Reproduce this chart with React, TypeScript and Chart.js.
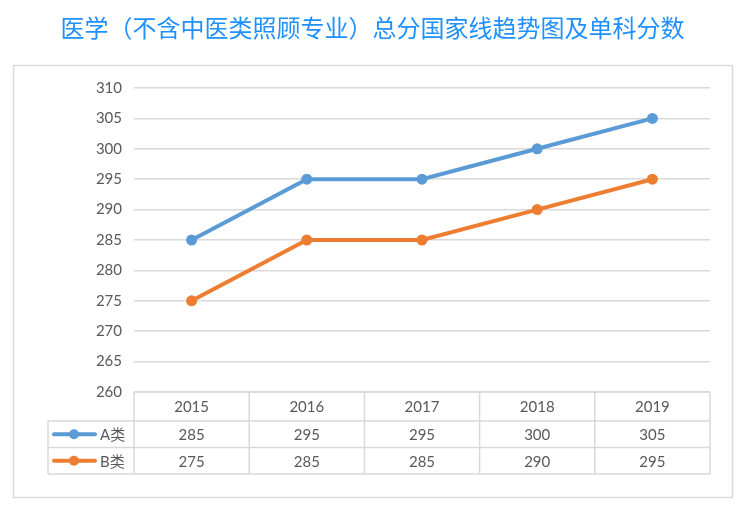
import React, { useEffect, useRef } from "react";
import { Chart, registerables } from "chart.js";

Chart.register(...registerables);

const titleText = "医学（不含中医类照顾专业）总分国家线趋势图及单科分数";
const years = ["2015", "2016", "2017", "2018", "2019"];
const seriesNames = ["A类", "B类"];
const seriesA = [285, 295, 295, 300, 305];
const seriesB = [275, 285, 285, 290, 295];
const yMin = 260;
const yMax = 310;
const yStep = 5;

const BLUE = "#5B9BD5";
const ORANGE = "#ED7D31";
const GRID = "#D9D9D9";
const TEXT = "#595959";
const FONT = "Lato, 'Noto Sans CJK SC', sans-serif";

const framePlugin = {
  id: "frame",
  beforeDraw(chart: any) {
    const { ctx } = chart;
    ctx.save();
    ctx.strokeStyle = GRID;
    ctx.lineWidth = 1.5;
    ctx.strokeRect(13.5, 65.5, 719, 432);
    ctx.restore();
  },
};

const tablePlugin = {
  id: "dataTable",
  afterDraw(chart: any) {
    const { ctx, chartArea, scales } = chart;
    const xs = scales.x;
    const n = years.length;
    const step = xs.getPixelForValue(1) - xs.getPixelForValue(0);
    const left = xs.getPixelForValue(0) - step / 2;
    const right = xs.getPixelForValue(n - 1) + step / 2;
    const top = chartArea.bottom;
    const headerH = 29;
    const rowH = 26.5;
    const legendLeft = 48;
    const r1 = top + headerH;
    const r2 = r1 + rowH;
    const bottom = r2 + rowH;

    ctx.save();
    ctx.strokeStyle = GRID;
    ctx.lineWidth = 1.5;
    const line = (x1: number, y1: number, x2: number, y2: number) => {
      ctx.beginPath();
      ctx.moveTo(x1, y1);
      ctx.lineTo(x2, y2);
      ctx.stroke();
    };
    line(left, top, right, top);
    line(legendLeft, r1, right, r1);
    line(legendLeft, r2, right, r2);
    line(legendLeft, bottom, right, bottom);
    for (let i = 0; i <= n; i++) {
      const x = left + i * step;
      line(x, top, x, bottom);
    }
    line(legendLeft, r1, legendLeft, bottom);

    ctx.fillStyle = TEXT;
    ctx.font = `15px ${FONT}`;
    ctx.textAlign = "center";
    ctx.textBaseline = "middle";
    years.forEach((y, i) => {
      ctx.fillText(y, xs.getPixelForValue(i), top + headerH / 2 + 1);
    });
    const rows = [seriesA, seriesB];
    const colors = [BLUE, ORANGE];
    rows.forEach((vals, ri) => {
      const cy = r1 + ri * rowH + rowH / 2 + 1;
      vals.forEach((v, i) => {
        ctx.fillStyle = TEXT;
        ctx.fillText(String(v), xs.getPixelForValue(i), cy);
      });
      ctx.strokeStyle = colors[ri];
      ctx.lineWidth = 4;
      ctx.lineCap = "round";
      line(54, cy - 1, 95, cy - 1);
      ctx.fillStyle = colors[ri];
      ctx.beginPath();
      ctx.arc(74, cy - 1, 5, 0, Math.PI * 2);
      ctx.fill();
      ctx.fillStyle = TEXT;
      ctx.textAlign = "left";
      ctx.fillText(seriesNames[ri], 100, cy);
      ctx.textAlign = "center";
    });
    ctx.restore();
  },
};

export default function App() {
  const ref = useRef<HTMLCanvasElement | null>(null);

  useEffect(() => {
    if (!ref.current) return;
    const chart = new Chart(ref.current, {
      type: "line",
      data: {
        labels: years,
        datasets: [
          {
            label: seriesNames[0],
            data: seriesA,
            borderColor: BLUE,
            backgroundColor: BLUE,
            borderWidth: 4,
            pointRadius: 5.5,
            pointBorderWidth: 0,
            pointBackgroundColor: BLUE,
            tension: 0,
          },
          {
            label: seriesNames[1],
            data: seriesB,
            borderColor: ORANGE,
            backgroundColor: ORANGE,
            borderWidth: 4,
            pointRadius: 5.5,
            pointBorderWidth: 0,
            pointBackgroundColor: ORANGE,
            tension: 0,
          },
        ],
      },
      options: {
        responsive: false,
        animation: false,
        layout: { padding: { top: 88, bottom: 117, left: 14, right: 35 } },
        plugins: {
          legend: { display: false },
          title: { display: false },
          tooltip: { enabled: false },
        },
        scales: {
          x: {
            type: "category",
            offset: true,
            display: false,
          },
          y: {
            min: yMin,
            max: yMax,
            border: { display: false },
            grid: { color: GRID, lineWidth: 1.5, drawTicks: false },
            ticks: {
              stepSize: yStep,
              color: TEXT,
              padding: 12,
              font: { family: FONT, size: 15 },
            },
            afterFit: (scale: any) => {
              scale.width = 120;
            },
          },
        },
      },
      plugins: [framePlugin, tablePlugin],
    });
    return () => chart.destroy();
  }, []);

  return (
    <div style={{ position: "fixed", left: 0, top: 0, width: 745, height: 509, background: "#fff" }}>
      <div
        style={{
          position: "absolute",
          left: 0,
          top: 14,
          width: 745,
          textAlign: "center",
          fontFamily: "'Noto Sans CJK SC', sans-serif",
          fontSize: 24,
          lineHeight: "26px",
          color: "#1E90FF",
        }}
      >
        {titleText}
      </div>
      <canvas ref={ref} width={745} height={509} style={{ display: "block" }} />
    </div>
  );
}
